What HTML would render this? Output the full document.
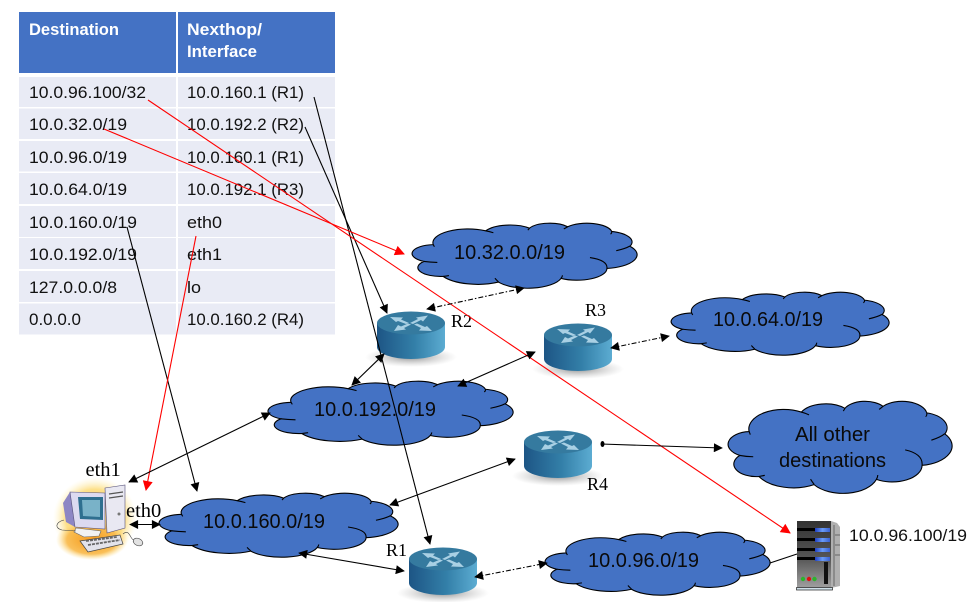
<!DOCTYPE html>
<html><head><meta charset="utf-8">
<style>
html,body{margin:0;padding:0;background:#fff}
svg{display:block}
.t{font-family:"Liberation Sans",sans-serif;font-size:16.5px;fill:#111}
.h{font-family:"Liberation Sans",sans-serif;font-size:16.5px;font-weight:bold;fill:#fff}
.c{font-family:"Liberation Sans",sans-serif;font-size:20px;fill:#0a0a0a}
.s{font-family:"Liberation Serif",serif;font-size:18px;fill:#000}
.e{font-family:"Liberation Serif",serif;font-size:20.5px;fill:#000}
.cl path{vector-effect:non-scaling-stroke;stroke:#000;stroke-width:1.1}
.l{fill:none;stroke:#000;stroke-width:1.1}
.r{fill:none;stroke:#f00;stroke-width:1.1}
</style></head><body>
<svg width="979" height="602" viewBox="0 0 979 602" xmlns="http://www.w3.org/2000/svg">
<defs>
<marker id="a" viewBox="0 0 10 10" refX="9" refY="5" markerWidth="11" markerHeight="9" markerUnits="userSpaceOnUse" orient="auto-start-reverse"><path d="M0 0L10 5L0 10z" fill="#000"/></marker>
<marker id="ar" viewBox="0 0 10 10" refX="9" refY="5" markerWidth="11" markerHeight="10" markerUnits="userSpaceOnUse" orient="auto"><path d="M0 0L10 5L0 10z" fill="#f00"/></marker>
<linearGradient id="side" x1="0" x2="1" y1="0" y2="0"><stop offset="0" stop-color="#1d5585"/><stop offset=".55" stop-color="#337fa8"/><stop offset="1" stop-color="#5cacd2"/></linearGradient>
<radialGradient id="sh"><stop offset="0" stop-color="#777" stop-opacity=".8"/><stop offset="1" stop-color="#aaa" stop-opacity="0"/></radialGradient>
<radialGradient id="glow"><stop offset="0" stop-color="#fdc95a"/><stop offset=".7" stop-color="#fde08a"/><stop offset="1" stop-color="#fff6d0" stop-opacity="0"/></radialGradient>
<radialGradient id="glow2"><stop offset="0" stop-color="#f59a20"/><stop offset=".7" stop-color="#f9b94a" stop-opacity=".9"/><stop offset="1" stop-color="#fde08a" stop-opacity="0"/></radialGradient>
<linearGradient id="srv" x1="0" x2="0" y1="0" y2="1"><stop offset="0" stop-color="#333"/><stop offset=".55" stop-color="#555"/><stop offset="1" stop-color="#a0a0a0"/></linearGradient>
<linearGradient id="led" x1="0" x2="1" y1="0" y2="0"><stop offset="0" stop-color="#2040c0"/><stop offset=".5" stop-color="#6a9cf5"/><stop offset="1" stop-color="#3a60d0"/></linearGradient>
<g id="cloud" class="cl">
<path fill="#4472c4" d="M3900 14370A6753 9190 0 0 1 14006 5203A5333 7267 0 0 1 22457 3434A4365 5945 0 0 1 29835 2484A4857 6595 0 0 1 38321 5577A5333 7273 0 0 1 41821 15463A6775 9220 0 0 1 37407 30207A5785 7867 0 0 1 28554 36814A6752 9215 0 0 1 16477 39262A7720 10543 0 0 1 5802 35466A4360 5918 0 0 1 2112 25541A4345 5945 0 0 1 3900 14370Z"/>
<path fill="none" d="M4693 26177Q3300 26100 2112 25541M6928 34899Q6400 35200 5802 35466M16478 39090Q16100 37900 15800 36700M28827 34751Q28800 35800 28554 36814M34129 22954Q37600 24800 37407 30207M41798 15354Q41000 17000 39200 18400M38321 5577Q38400 6700 38100 7400M29835 2484Q29500 3200 29078 3952M22457 3434Q22350 4000 22141 4720M14006 5203Q14800 5700 15500 6500M3900 14370Q4000 15000 4127 15789"/>
</g>
<g id="router">
<ellipse cx="0" cy="34" rx="46" ry="10" fill="url(#sh)"/>
<path d="M-34 0V24A34 12 0 0 0 34 24V0Z" fill="url(#side)"/>
<ellipse cx="0" cy="0" rx="34" ry="11.500" fill="#357a9f"/>
<g fill="#a9d0e4">
<path d="M-21 -6L-8 -5.500L-10 -3.500L-2 0L-5 1L-13 -2L-15 -1Z"/>
<path d="M21 8L8 7.500L10 5L3 1.500L6 0.500L14 4L16 3Z"/>
<path d="M17 -7.500L12 -1.500L10 -3L2 1L-1 0L7 -4L5 -5.500Z"/>
<path d="M-17 8L-13 2L-10 3.500L-3 0.500L0 1.500L-7 5L-5 6.500Z"/>
</g>
</g>
</defs>

<!-- table -->
<rect x="19" y="12" width="157" height="61" fill="#4472c4"/>
<rect x="178" y="12" width="157" height="61" fill="#4472c4"/>
<g fill="#e9ebf5">
<rect x="19" y="77" width="157" height="30"/><rect x="178" y="77" width="157" height="30"/>
<rect x="19" y="108.500" width="157" height="30.500"/><rect x="178" y="108.500" width="157" height="30.500"/>
<rect x="19" y="141" width="157" height="30.500"/><rect x="178" y="141" width="157" height="30.500"/>
<rect x="19" y="173" width="157" height="31"/><rect x="178" y="173" width="157" height="31"/>
<rect x="19" y="206" width="157" height="31"/><rect x="178" y="206" width="157" height="31"/>
<rect x="19" y="238" width="157" height="31"/><rect x="178" y="238" width="157" height="31"/>
<rect x="19" y="271" width="157" height="31"/><rect x="178" y="271" width="157" height="31"/>
<rect x="19" y="303.500" width="157" height="31"/><rect x="178" y="303.500" width="157" height="31"/>
</g>
<text class="h" x="29" y="35" textLength="90" lengthAdjust="spacingAndGlyphs">Destination</text>
<text class="h" x="187" y="35" textLength="75" lengthAdjust="spacingAndGlyphs">Nexthop/</text>
<text class="h" x="187" y="57" textLength="70" lengthAdjust="spacingAndGlyphs">Interface</text>
<g class="t">
<text x="29" y="98" textLength="117" lengthAdjust="spacingAndGlyphs">10.0.96.100/32</text>
<text x="29" y="130" textLength="98" lengthAdjust="spacingAndGlyphs">10.0.32.0/19</text>
<text x="29" y="163" textLength="98" lengthAdjust="spacingAndGlyphs">10.0.96.0/19</text>
<text x="29" y="195" textLength="98" lengthAdjust="spacingAndGlyphs">10.0.64.0/19</text>
<text x="29" y="228" textLength="108" lengthAdjust="spacingAndGlyphs">10.0.160.0/19</text>
<text x="29" y="260" textLength="108" lengthAdjust="spacingAndGlyphs">10.0.192.0/19</text>
<text x="29" y="293" textLength="88" lengthAdjust="spacingAndGlyphs">127.0.0.0/8</text>
<text x="29" y="325" textLength="52" lengthAdjust="spacingAndGlyphs">0.0.0.0</text>
<text x="187" y="98" textLength="117" lengthAdjust="spacingAndGlyphs">10.0.160.1 (R1)</text>
<text x="187" y="130" textLength="117" lengthAdjust="spacingAndGlyphs">10.0.192.2 (R2)</text>
<text x="187" y="163" textLength="117" lengthAdjust="spacingAndGlyphs">10.0.160.1 (R1)</text>
<text x="187" y="195" textLength="117" lengthAdjust="spacingAndGlyphs">10.0.192.1 (R3)</text>
<text x="187" y="228" textLength="35" lengthAdjust="spacingAndGlyphs">eth0</text>
<text x="187" y="260" textLength="35" lengthAdjust="spacingAndGlyphs">eth1</text>
<text x="187" y="293" textLength="14" lengthAdjust="spacingAndGlyphs">lo</text>
<text x="187" y="325" textLength="117" lengthAdjust="spacingAndGlyphs">10.0.160.2 (R4)</text>
</g>

<!-- clouds -->
<use href="#cloud" transform="translate(413 223) scale(.005185 .001505)"/>
<use href="#cloud" transform="translate(672 292) scale(.005023 .001458)"/>
<use href="#cloud" transform="translate(269 381) scale(.005648 .001481)"/>
<use href="#cloud" transform="translate(729 401) scale(.005162 .00213)"/>
<use href="#cloud" transform="translate(160 493) scale(.005509 .001481)"/>
<use href="#cloud" transform="translate(546 532) scale(.005185 .001458)"/>
<text class="c" x="454" y="259" textLength="111" lengthAdjust="spacingAndGlyphs">10.32.0.0/19</text>
<text class="c" x="713" y="326" textLength="110" lengthAdjust="spacingAndGlyphs">10.0.64.0/19</text>
<text class="c" x="314" y="416" textLength="122" lengthAdjust="spacingAndGlyphs">10.0.192.0/19</text>
<text class="c" x="795" y="441" textLength="75" lengthAdjust="spacingAndGlyphs">All other</text>
<text class="c" x="779" y="467" textLength="107" lengthAdjust="spacingAndGlyphs">destinations</text>
<text class="c" x="203" y="528" textLength="122" lengthAdjust="spacingAndGlyphs">10.0.160.0/19</text>
<text class="c" x="588" y="567" textLength="111" lengthAdjust="spacingAndGlyphs">10.0.96.0/19</text>

<!-- routers -->
<use href="#router" x="411" y="323"/>
<use href="#router" x="578" y="335"/>
<use href="#router" x="558" y="442"/>
<use href="#router" x="443" y="559"/>
<text class="s" x="451" y="327">R2</text>
<text class="s" x="585" y="316">R3</text>
<text class="s" x="587" y="490">R4</text>
<text class="s" x="386" y="556">R1</text>

<!-- computer -->
<g>
<ellipse cx="95" cy="518" rx="42" ry="41" fill="url(#glow)"/>
<ellipse cx="92" cy="540" rx="36" ry="20" fill="url(#glow2)"/>
<path d="M63 503L70 492L75 527L66 522Z" fill="#8d86c4"/>
<path d="M70 492L105 493V529L75 527Z" fill="#dcdaf0" stroke="#55507a" stroke-width=".6"/>
<path d="M78 497L103 497V520L80 519Z" fill="#2e6f8f"/>
<path d="M82 500L100 500V517L83 516Z" fill="#79b2c8"/>
<path d="M105 488L125 485V528L107 533Z" fill="#e9e8f2" stroke="#55507a" stroke-width=".6"/>
<path d="M109 494L123 492M109 498L123 496" stroke="#555" stroke-width="1.200"/>
<circle cx="119" cy="514" r="1.500" fill="#777"/>
<path d="M76 528L101 531L99 536L84 537L74 532Z" fill="#f2f2f2" stroke="#666" stroke-width=".6"/>
<path d="M80 541L120 535L123 544L88 552Z" fill="#e3e3ea" stroke="#444" stroke-width=".7"/>
<path d="M86 541L117 537M88 545L120 540" stroke="#666" stroke-width="1.800" stroke-dasharray="3 1"/>
<ellipse cx="138" cy="542" rx="5" ry="3.500" fill="#e2e2e2" stroke="#555" stroke-width=".7" transform="rotate(25 138 542)"/>
<path d="M123 534C130 528 130 540 134 540M64 520C56 522 54 528 62 530L76 531" fill="none" stroke="#444" stroke-width=".6"/>
</g>
<text class="e" x="85.500" y="476">eth1</text>
<text class="e" x="126" y="517">eth0</text>

<!-- server -->
<g>
<rect x="797" y="521" width="34" height="67" fill="url(#srv)"/>
<path d="M831 521L837 523L840 527V586L831 588Z" fill="#b0b0b0"/>
<path d="M834 525V586" stroke="#666" stroke-width="1"/>
<path d="M835 535H840M835 545H840M835 555H840" stroke="#666" stroke-width="1"/>
<g fill="#000"><rect x="797" y="528" width="18" height="3"/><rect x="797" y="538" width="18" height="3"/><rect x="797" y="548" width="18" height="3"/><rect x="797" y="557" width="18" height="3"/></g>
<g fill="url(#led)"><rect x="815" y="528" width="15" height="4"/><rect x="815" y="538" width="15" height="4"/><rect x="815" y="548" width="15" height="4"/><rect x="815" y="557" width="15" height="4"/></g>
<rect x="824" y="562" width="4" height="22" fill="#111"/>
<circle cx="803" cy="579" r="2.200" fill="#2cb52c"/><circle cx="809" cy="579" r="2.200" fill="#e01010"/><circle cx="814.500" cy="579" r="2.200" fill="#2cb52c"/>
<rect x="796.500" y="587.500" width="36" height="2.500" fill="#cfe0e8" stroke="#222" stroke-width=".7"/>
</g>
<text class="t" x="849" y="541" textLength="118" lengthAdjust="spacingAndGlyphs">10.0.96.100/19</text>

<!-- connectors -->
<line class="l" x1="314" y1="97" x2="430" y2="544" marker-end="url(#a)"/>
<line class="l" x1="305" y1="127" x2="387" y2="313" marker-end="url(#a)"/>
<line class="l" x1="127" y1="227" x2="197" y2="491" marker-end="url(#a)"/>
<line class="r" x1="148" y1="100" x2="790" y2="533" marker-end="url(#ar)"/>
<line class="r" x1="104" y1="129" x2="404" y2="254" marker-end="url(#ar)"/>
<line class="r" x1="196" y1="236" x2="146" y2="490" marker-end="url(#ar)"/>
<line class="l" x1="129" y1="482" x2="270" y2="413" marker-start="url(#a)" marker-end="url(#a)"/>
<line class="l" x1="130" y1="524.500" x2="160" y2="524.500" marker-start="url(#a)" marker-end="url(#a)"/>
<line class="l" x1="299" y1="553" x2="404" y2="571" marker-start="url(#a)" marker-end="url(#a)"/>
<line class="l" x1="390" y1="505" x2="515" y2="459" marker-start="url(#a)" marker-end="url(#a)"/>
<line class="l" x1="352" y1="385" x2="384" y2="354" marker-start="url(#a)" marker-end="url(#a)"/>
<line class="l" x1="458" y1="386" x2="535" y2="352" marker-start="url(#a)" marker-end="url(#a)"/>
<line class="l" stroke-dasharray="5 2 1.500 2" x1="427" y1="309" x2="524" y2="288" marker-start="url(#a)" marker-end="url(#a)"/>
<line class="l" stroke-dasharray="5 2 1.500 2" x1="611" y1="348" x2="669" y2="336" marker-start="url(#a)" marker-end="url(#a)"/>
<line class="l" stroke-dasharray="5 2 1.500 2" x1="475" y1="577" x2="547" y2="563" marker-start="url(#a)" marker-end="url(#a)"/>
<line class="l" x1="601" y1="444" x2="722" y2="448" marker-end="url(#a)"/>
<ellipse cx="602.500" cy="444" rx="2" ry="3" fill="#000"/>
<line class="l" x1="770" y1="563" x2="797" y2="554"/>
</svg>
</body></html>
